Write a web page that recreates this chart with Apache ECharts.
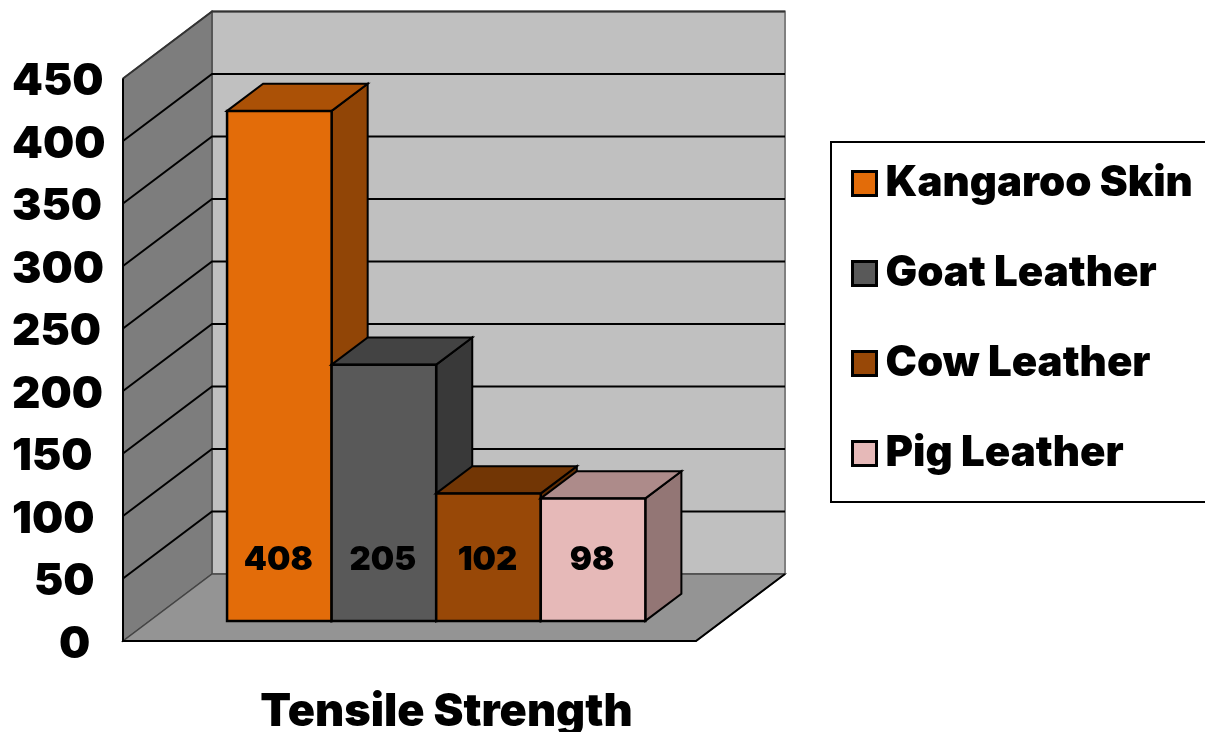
<!DOCTYPE html>
<html>
<head>
<meta charset="utf-8">
<style>
  html, body { margin: 0; padding: 0; background: #fff; }
  #chart { width: 1205px; height: 732px; }
</style>
<script src="https://cdn.jsdelivr.net/npm/echarts@6/dist/echarts.min.js"></script>
</head>
<body>
<div id="chart"></div>
<script>
const categories = ["Tensile Strength"]
const seriesNames = ["Kangaroo Skin", "Goat Leather", "Cow Leather", "Pig Leather"]
const seriesValues = [[408], [205], [102], [98]]
const yTicks = [0, 50, 100, 150, 200, 250, 300, 350, 400, 450]
const frontColors = ["#E36C09", "#595959", "#984807", "#E6B9B8"]
const topColors = ["#AB5106", "#434343", "#723605", "#AD8B8A"]
const sideColors = ["#914506", "#393939", "#612E04", "#937675"]

const FONT = "Inter"
const WALL_DX = 89 // 3d projection of the chart depth
const WALL_DY = -67
const BAR_START = 0.3 // where bars sit along the depth
const BAR_DEPTH = 0.405
const BAR_SPAN = 0.73 // part of the band the 4 bars fill

const myChart = echarts.init(document.getElementById("chart"), null, { renderer: "canvas" })

function poly(points, fill, lineWidth, stroke) {
  return {
    type: "polygon",
    shape: { points: points },
    style: { fill: fill, stroke: stroke || "#000", lineWidth: lineWidth, lineJoin: "miter" },
  }
}

// walls and floor, built from the axis scale
function renderWalls(params, api) {
  const band = api.size([1, 0])[0]
  const center = api.coord([0, 0])[0]
  const left = center - band / 2
  const right = center + band / 2
  const y0 = api.coord([0, 0])[1]
  const yMax = api.coord([0, yTicks[yTicks.length - 1]])[1]
  const children = [
    poly([[left + WALL_DX, yMax + WALL_DY], [right + WALL_DX, yMax + WALL_DY], [right + WALL_DX, y0 + WALL_DY], [left + WALL_DX, y0 + WALL_DY]], "#C0C0C0", 2, "#808080"),
    poly([[left, yMax], [left + WALL_DX, yMax + WALL_DY], [left + WALL_DX, y0 + WALL_DY], [left, y0]], "#7D7D7D", 1.5, "#4a4a4a"),
    poly([[left, y0], [left + WALL_DX, y0 + WALL_DY], [right + WALL_DX, y0 + WALL_DY], [right, y0]], "#949494", 1.5, "#444"),
  ]
  yTicks.forEach((t, i) => {
    if (i == 0) return
    const y = api.coord([0, t])[1]
    children.push({
      type: "polyline",
      shape: { points: [[left, y], [left + WALL_DX, y + WALL_DY], [right + WALL_DX, y + WALL_DY]] },
      style: { fill: "none", stroke: i == yTicks.length - 1 ? "#333" : "#000", lineWidth: 2 },
    })
  })
  // dark front edges
  children.push({
    type: "polyline",
    shape: { points: [[left, yMax], [left, y0], [right, y0], [right + WALL_DX, y0 + WALL_DY]] },
    style: { fill: "none", stroke: "#000", lineWidth: 2 },
  })
  return { type: "group", children: children }
}

function makeBarRenderer(index) {
  return function (params, api) {
    const band = api.size([1, 0])[0]
    const base = api.coord([api.value(0), 0])
    const top = api.coord([api.value(0), api.value(1)])
    const offX = WALL_DX * BAR_START
    const offY = WALL_DY * BAR_START
    const depX = WALL_DX * BAR_DEPTH
    const depY = WALL_DY * BAR_DEPTH
    const w = (band * BAR_SPAN) / seriesNames.length
    const x0 = base[0] + offX - (w * seriesNames.length) / 2 + w * index
    const x1 = x0 + w
    const yb = base[1] + offY
    const yt = top[1] + offY
    return {
      type: "group",
      children: [
        poly([[x1, yt], [x1 + depX, yt + depY], [x1 + depX, yb + depY], [x1, yb]], sideColors[index], 2),
        poly([[x0, yt], [x0 + depX, yt + depY], [x1 + depX, yt + depY], [x1, yt]], topColors[index], 2),
        poly([[x0, yt], [x1, yt], [x1, yb], [x0, yb]], frontColors[index], 2.5),
        {
          type: "text",
          style: {
            x: (x0 + x1) / 2 - 1,
            y: yb - 61,
            text: String(api.value(1)),
            fill: "#000",
            font: "900 33px " + FONT,
            textAlign: "center",
            textVerticalAlign: "middle",
          },
        },
      ],
    }
  }
}

const series = [
  {
    type: "custom",
    name: "walls",
    silent: true,
    renderItem: renderWalls,
    data: [[0, 0]],
    encode: { x: 0, y: 1 },
    z: 1,
  },
].concat(
  seriesNames.map((name, i) => ({
    type: "custom",
    name: name,
    renderItem: makeBarRenderer(i),
    data: seriesValues[i].map((v, c) => [c, v]),
    encode: { x: 0, y: 1 },
    itemStyle: { color: frontColors[i], borderColor: "#000", borderWidth: 2 },
    z: 2 + i,
  }))
)

// tick label style, short labels are pushed in from the left edge
function tickStyle(leftPad) {
  return { color: "#000", fontFamily: FONT, fontWeight: 900, fontSize: 44, padding: [7, 0, 0, leftPad] }
}

let option = {
  animation: false,
  grid: { left: 123, right: 509, top: 78.5, bottom: 91, outerBoundsMode: "none" },
  legend: {
    data: seriesNames,
    orient: "vertical",
    left: 831,
    top: 142,
    padding: [20.5, 20, 27.5, 20],
    itemGap: 48,
    itemWidth: 24,
    itemHeight: 24,
    icon: "rect",
    borderColor: "#000",
    borderWidth: 2,
    backgroundColor: "#fff",
    selectedMode: false,
    itemStyle: { borderColor: "#000", borderWidth: 3 },
    textStyle: { color: "#000", fontFamily: FONT, fontWeight: 900, fontSize: 42, padding: [0, 0, 0, 4] },
  },
  xAxis: {
    type: "category",
    data: categories,
    axisLine: { show: false },
    axisTick: { show: false },
    axisLabel: { color: "#000", fontFamily: FONT, fontWeight: 900, fontSize: 45, margin: 49, padding: [0, 0, 0, 74] },
  },
  yAxis: {
    type: "value",
    min: 0,
    max: 450,
    interval: 50,
    axisLine: { show: false },
    axisTick: { show: false },
    splitLine: { show: false },
    axisLabel: {
      align: "left",
      margin: 111,
      formatter: (val) => {
        if (val < 10) return "{one|" + val + "}"
        if (val < 100) return "{two|" + val + "}"
        return "{three|" + val + "}"
      },
      rich: { one: tickStyle(47), two: tickStyle(22), three: tickStyle(0) },
    },
  },
  series: series,
}
myChart.setOption(option)
</script>
</body>
</html>
